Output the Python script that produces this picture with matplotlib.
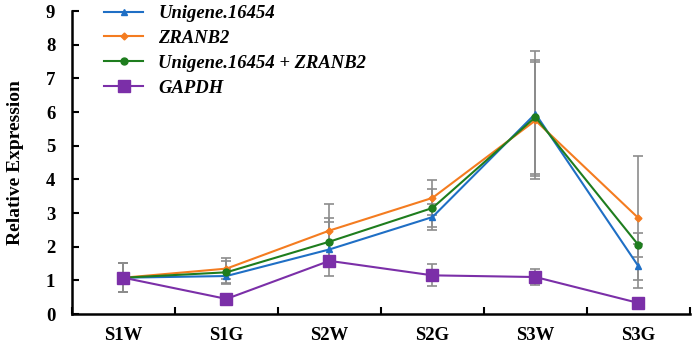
import numpy as np
import matplotlib.pyplot as plt

samples = ['S1W', 'S1G', 'S2W', 'S2G', 'S3W', 'S3G']

unigene = [1.08, 1.13, 1.92, 2.88, 5.95, 1.42]
unigene_err = [0.43, 0.22, 0.80, 0.38, 1.85, 0.65]
zranb2 = [1.08, 1.35, 2.48, 3.45, 5.75, 2.85]
zranb2_err = [0.43, 0.32, 0.80, 0.52, 1.75, 1.85]
combined = [1.08, 1.24, 2.15, 3.15, 5.85, 2.05]
combined_err = [0.43, 0.34, 0.70, 0.55, 1.70, 0.35]
gapdh = [1.08, 0.45, 1.58, 1.15, 1.10, 0.33]
gapdh_err = [0.43, 0.05, 0.05, 0.33, 0.25, 0.15]

plt.rcParams['font.family'] = ['Liberation Serif', 'DejaVu Serif']
plt.rcParams['font.weight'] = 'bold'

fig = plt.figure(figsize=(6.92, 3.44), dpi=100)
ax = fig.add_axes([0.104, 0.087, 0.893, 0.881])

x = np.arange(len(samples))
series = [
    (unigene, unigene_err, 'Unigene.16454', '#1f6fc5', '^', 5),
    (zranb2, zranb2_err, 'ZRANB2', '#f47c20', 'D', 3.5),
    (combined, combined_err, 'Unigene.16454 + ZRANB2', '#1e7d1e', 'o', 5),
    (gapdh, gapdh_err, 'GAPDH', '#7b2fa8', 's', 8),
]
for vals, err, name, col, mk, ms in series:
    ax.errorbar(x, vals, yerr=err, fmt='none', ecolor='#8c8c8c',
                elinewidth=1.2, capsize=3.5, capthick=1.2, zorder=1)
for vals, err, name, col, mk, ms in series:
    ax.plot(x, vals, color=col, marker=mk, markersize=ms, linewidth=1.5,
            label=name, zorder=3)

ax.set_xlim(-0.5, 5.5)
ax.set_ylim(0, 9)
ax.set_yticks(range(0, 10))
ax.set_xticks(x)
ax.set_xticklabels(samples)
ax.set_xticks(np.arange(-0.5, 6.0, 1.0), minor=True)
ax.tick_params(axis='x', which='major', length=0, pad=9, labelsize=13.5)
ax.tick_params(axis='x', which='minor', direction='in', length=5, width=1.5)
ax.tick_params(axis='y', direction='in', length=5, width=1.5, labelsize=13.5, pad=12)
for s in ['top', 'right']:
    ax.spines[s].set_visible(False)
for s in ['left', 'bottom']:
    ax.spines[s].set_linewidth(1.8)
ax.set_ylabel('Relative Expression', fontsize=14, fontweight='bold', labelpad=16)

leg = ax.legend(loc='upper left', bbox_to_anchor=(0.025, 1.075), frameon=False,
                prop={'style': 'italic', 'weight': 'bold', 'size': 13.4},
                handlelength=2.1, handletextpad=0.8, labelspacing=0.42)

fig.savefig('out.png', dpi=100)
